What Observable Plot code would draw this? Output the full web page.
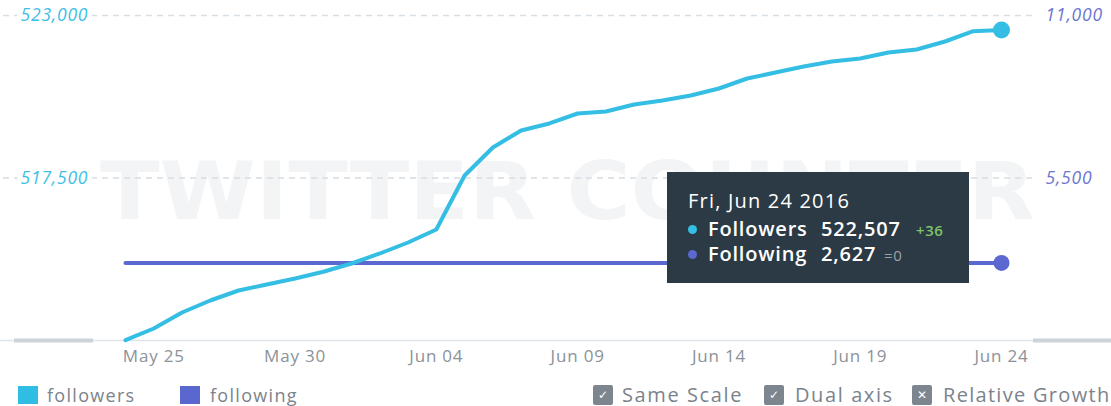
<!DOCTYPE html>
<html><head><meta charset="utf-8">
<script src="https://cdn.jsdelivr.net/npm/d3@7"></script>
<script src="https://cdn.jsdelivr.net/npm/@observablehq/plot@0.6"></script>
<style>
body{margin:0;background:#fff;font-family:"Open Sans",sans-serif;}
#wrap{position:relative;width:1111px;height:406px;overflow:hidden;background:#fff;}
#chart{position:absolute;left:0;top:0;}
#tip{position:absolute;left:667px;top:172px;width:302px;height:111px;background:#2b3a44;color:#fff;}
#tip .ln{position:absolute;left:0;height:26px;line-height:26px;width:100%;white-space:nowrap;}
#tip span{position:absolute;top:0;}
#tip .b{width:9px;height:9px;border-radius:50%;top:9px;}
#tip .nm{font-size:20px;font-weight:600;letter-spacing:0.8px;}
#tip .d{font-size:15px;font-weight:600;letter-spacing:0.6px;}
.leg{position:absolute;top:384px;height:22px;line-height:22px;white-space:nowrap;color:#7b838c;}
.sq{position:absolute;top:386px;width:20px;height:18px;}
.cb{position:absolute;top:385px;width:20px;height:20px;background:#7d868f;border-radius:2px;color:#fff;font-size:12px;line-height:20px;text-align:center;font-family:"DejaVu Sans",sans-serif;font-weight:bold;}
</style></head>
<body><div id="wrap"><div id="chart"></div>
<div id="tip">
  <div class="ln" style="top:16px;font-size:20px;letter-spacing:1.2px;"><span style="left:21px;">Fri, Jun 24 2016</span></div>
  <div class="ln" style="top:44px;">
    <span class="b" style="left:21px;background:#35bee3;"></span>
    <span class="nm" style="left:41px;">Followers</span>
    <span class="nm" style="left:154px;">522,507</span>
    <span class="d" style="left:249px;color:#7cc36a;top:1px;">+36</span>
  </div>
  <div class="ln" style="top:69px;">
    <span class="b" style="left:21px;background:#5b68cf;"></span>
    <span class="nm" style="left:41px;">Following</span>
    <span class="nm" style="left:154px;">2,627</span>
    <span class="d" style="left:217px;color:#9aa3aa;font-weight:400;top:1px;">=0</span>
  </div>
</div>
<div class="sq" style="left:18px;background:#30bde3;"></div>
<div class="leg" style="left:47px;font-size:18px;letter-spacing:1.3px;">followers</div>
<div class="sq" style="left:180px;background:#5a67cf;"></div>
<div class="leg" style="left:210px;font-size:18px;letter-spacing:1.3px;">following</div>
<div class="cb" style="left:593px;">✓</div>
<div class="leg" style="left:622px;font-size:20px;letter-spacing:1.6px;">Same Scale</div>
<div class="cb" style="left:764px;">✓</div>
<div class="leg" style="left:795px;font-size:20px;letter-spacing:1.6px;">Dual axis</div>
<div class="cb" style="left:912px;">✕</div>
<div class="leg" style="left:943px;font-size:20px;letter-spacing:1.3px;">Relative Growth</div>
</div>
<script>
const dates = ["2016-05-24","2016-05-25","2016-05-26","2016-05-27","2016-05-28","2016-05-29","2016-05-30","2016-05-31",
  "2016-06-01","2016-06-02","2016-06-03","2016-06-04","2016-06-05","2016-06-06","2016-06-07","2016-06-08",
  "2016-06-09","2016-06-10","2016-06-11","2016-06-12","2016-06-13","2016-06-14","2016-06-15","2016-06-16",
  "2016-06-17","2016-06-18","2016-06-19","2016-06-20","2016-06-21","2016-06-22","2016-06-23","2016-06-24"];
const followers = [512010,512406,512948,513354,513692,513895,514098,514326,
  514606,514945,515317,515757,517585,518532,519108,519345,
  519683,519751,519988,520123,520292,520529,520868,521071,
  521274,521443,521545,521748,521849,522120,522471,522507];
const following = [2627,2627,2627,2627,2627,2627,2627,2627,
  2627,2627,2627,2627,2627,2627,2627,2627,
  2627,2627,2627,2627,2627,2627,2627,2627,
  2627,2627,2627,2627,2627,2627,2627,2627];
const leftTicks = [523000, 517500];
const rightTicks = [11000, 5500];
const xTicks = ["2016-05-25","2016-05-30","2016-06-04","2016-06-09","2016-06-14","2016-06-19","2016-06-24"];
const leftDomain = [512000, 523000];
const rightDomain = [0, 11000];

// map right-axis values onto left scale
const toLeft = v => leftDomain[0] + (v - rightDomain[0]) * (leftDomain[1]-leftDomain[0])/(rightDomain[1]-rightDomain[0]);

const rows = dates.map((d,i) => ({date: new Date(d), followers: followers[i], following: following[i]}));
const last = rows[rows.length-1];
const fmt = d3.format(",");

const plot = Plot.plot({
  width: 1111, height: 370,
  marginLeft: 125, marginRight: 110, marginTop: 15, marginBottom: 30,
  style: {fontFamily: "Open Sans", fontSize: "17px", background: "transparent", overflow: "visible", letterSpacing: "0.8px"},
  x: {type: "utc", domain: [new Date(dates[0]), new Date(dates[dates.length-1])]},
  y: {domain: leftDomain, axis: null},
  marks: [
    Plot.text(["TWITTER COUNTER"], {text: d => d, frameAnchor: "middle", dx: 4, dy: 15, fontSize: 80, fontWeight: 900,
      fontFamily: "DejaVu Sans", fill: "#f2f4f6"}),
    Plot.ruleY(leftTicks, {stroke: "#d6dde3", strokeWidth: 1.5, strokeDasharray: "6,5", insetLeft: -122, insetRight: -31}),
    Plot.ruleY([leftDomain[0]], {stroke: "#dfe4e9", strokeWidth: 1.5, insetLeft: -125, insetRight: -110}),
    Plot.ruleY([leftDomain[0]], {stroke: "#ccd4da", strokeWidth: 4, insetLeft: -111, insetRight: 908}),
    Plot.ruleY([leftDomain[0]], {stroke: "#ccd4da", strokeWidth: 4, insetLeft: 908, insetRight: -110}),
    Plot.line(rows, {x: "date", y: d => toLeft(d.following), stroke: "#5b68cf", strokeWidth: 4}),
    Plot.line(rows, {x: "date", y: "followers", stroke: "#35bee3", strokeWidth: 4}),
    Plot.dot([last], {x: "date", y: d => toLeft(d.following), r: 8, fill: "#5b68cf"}),
    Plot.dot([last], {x: "date", y: "followers", r: 8.5, fill: "#35bee3"}),
    Plot.text(leftTicks, {y: d => d, text: d => fmt(d), frameAnchor: "left", dx: -105, textAnchor: "start",
      fill: "#3cc0e4", fontStyle: "italic", fontSize: 17.5, stroke: "white", strokeWidth: 10}),
    Plot.text(rightTicks, {y: d => toLeft(d), text: d => fmt(d), frameAnchor: "right", dx: 44, textAnchor: "start",
      fill: "#6b76d0", fontStyle: "italic", fontSize: 17.5}),
    Plot.axisX(xTicks.map(d => new Date(d)), {tickSize: 0, tickPadding: 9, tickFormat: d3.utcFormat("%b %d"),
      fontSize: 17, color: "#8b9299"})
  ]
});
const wm = d3.select(plot).select('g[aria-label="text"] text');
wm.attr("textLength", 935).attr("lengthAdjust", "spacingAndGlyphs").style("letter-spacing", "0px");
document.getElementById("chart").appendChild(plot);
</script>
</body></html>
